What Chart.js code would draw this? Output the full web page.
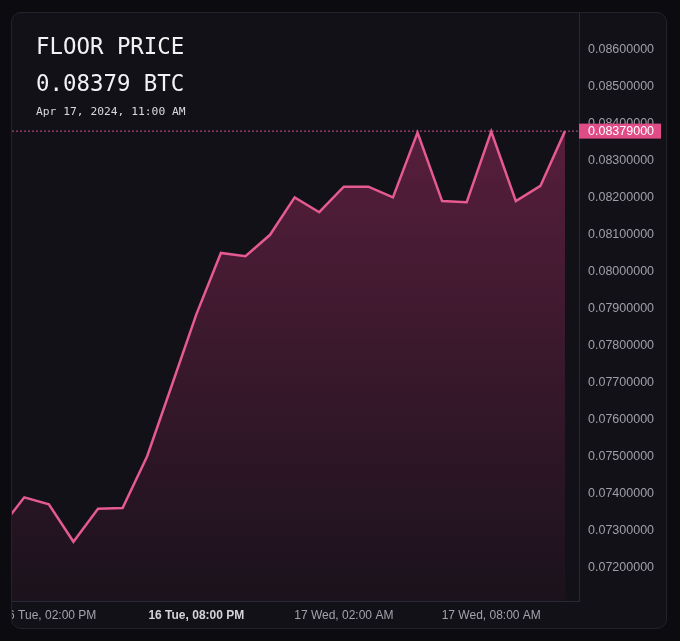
<!DOCTYPE html>
<html>
<head>
<meta charset="utf-8">
<script src="https://cdn.jsdelivr.net/npm/chart.js@4.4.1/dist/chart.umd.min.js"></script>
<style>
  html, body { margin: 0; padding: 0; background: #0c0b0f; }
  body { width: 680px; height: 641px; position: relative; overflow: hidden; }
  #card {
    position: absolute; left: 11px; top: 12px; width: 654px; height: 615px;
    background: #131118; border: 1px solid #24222b; border-radius: 10px; overflow: hidden;
  }
  #chart-wrap { position: absolute; left: 0; top: 0; width: 654px; height: 615px; }
  .head { position: absolute; left: 24px; font-family: "DejaVu Sans Mono", monospace; color: #f2f2f4; white-space: nowrap; }
  #title { top: 22px; font-size: 22.4px; line-height: 22.4px; }
  #price { top: 59px; font-size: 22.4px; line-height: 22.4px; }
  #stamp { top: 92.5px; font-size: 11.3px; line-height: 11.3px; color: #d9d8de; }
</style>
</head>
<body>
<div id="card">
  <div id="chart-wrap"><canvas id="floor-chart"></canvas></div>
  <div class="head" id="title">FLOOR PRICE</div>
  <div class="head" id="price">0.08379 BTC</div>
  <div class="head" id="stamp">Apr 17, 2024, 11:00 AM</div>
</div>
<script>
// hours relative to Apr 17, 2024 00:00
const hours = [-12, -11, -10, -9, -8, -7, -6, -5, -4, -3, -2, -1, 0, 1, 2, 3, 4, 5, 6, 7, 8, 9, 10, 11];
const floorPrices = [
  0.07304, 0.07390, 0.07371, 0.07270, 0.07359, 0.07361, 0.07501, 0.07692,
  0.07884, 0.08050, 0.08041, 0.08099, 0.08200, 0.08160, 0.08229, 0.08229,
  0.08200, 0.08375, 0.08190, 0.08187, 0.08378, 0.08190, 0.08231, 0.08379
];
const xTickHours = [-10, -4, 2, 8];
const xTickLabels = ['16 Tue, 02:00 PM', '16 Tue, 08:00 PM', '17 Wed, 02:00 AM', '17 Wed, 08:00 AM'];
const yTicks = [0.072, 0.073, 0.074, 0.075, 0.076, 0.077, 0.078, 0.079, 0.080, 0.081, 0.082, 0.083, 0.084, 0.085, 0.086];
const currentPrice = 0.08379;

const pink = '#e45a91';
const tickFont = '"Liberation Sans", Arial, sans-serif';

// dotted line at current price + price badge on the axis
const priceMarker = {
  id: 'priceMarker',
  beforeDatasetsDraw(chart) {
    const { ctx, chartArea } = chart;
    const y = chart.scales.y.getPixelForValue(currentPrice);
    ctx.save();
    ctx.strokeStyle = 'rgba(228, 90, 145, 0.85)';
    ctx.lineWidth = 1;
    ctx.setLineDash([2, 2]);
    ctx.beginPath();
    ctx.moveTo(chartArea.left, y);
    ctx.lineTo(chartArea.right, y);
    ctx.stroke();
    ctx.restore();
  },
  afterDraw(chart) {
    const { ctx, chartArea } = chart;
    const y = chart.scales.y.getPixelForValue(currentPrice);
    ctx.save();
    ctx.fillStyle = '#e04d86';
    ctx.fillRect(chartArea.right, y - 7.5, 82, 15);
    ctx.fillStyle = '#ffffff';
    ctx.font = '12.5px ' + tickFont;
    ctx.textBaseline = 'middle';
    ctx.textAlign = 'left';
    ctx.fillText(currentPrice.toFixed(8), chartArea.right + 9, y + 0.5);
    ctx.restore();
  }
};

const ctx = document.getElementById('floor-chart').getContext('2d');
new Chart(ctx, {
  type: 'line',
  data: {
    datasets: [{
      label: 'Floor price',
      data: hours.map((h, i) => ({ x: h, y: floorPrices[i] })),
      borderColor: pink,
      borderWidth: 2.5,
      pointRadius: 0,
      tension: 0,
      fill: 'start',
      backgroundColor: function(context) {
        const area = context.chart.chartArea;
        if (!area) return 'rgba(210, 55, 125, 0.25)';
        const g = context.chart.ctx.createLinearGradient(0, area.top, 0, area.bottom);
        g.addColorStop(0, 'rgba(210, 55, 125, 0.44)');
        g.addColorStop(1, 'rgba(210, 55, 125, 0.04)');
        return g;
      }
    }]
  },
  options: {
    responsive: true,
    maintainAspectRatio: false,
    animation: false,
    layout: { padding: 0 },
    plugins: { legend: { display: false }, tooltip: { enabled: false } },
    scales: {
      x: {
        type: 'linear',
        min: -11.5,
        max: 11.57,
        grid: { display: false, drawTicks: false },
        border: { display: true, color: '#2a2832', width: 1 },
        afterBuildTicks: function(scale) {
          scale.ticks = xTickHours.map(v => ({ value: v }));
        },
        afterFit: function(scale) {
          scale.paddingLeft = 0;
          scale.paddingRight = 0;
          scale.height = 27;
        },
        ticks: {
          autoSkip: false,
          maxRotation: 0,
          padding: 7,
          color: function(c) { return c.tick && c.tick.value === -4 ? '#d4d3d9' : '#a3a2aa'; },
          font: function(c) {
            return {
              family: tickFont,
              size: 12,
              weight: c.tick && c.tick.value === -4 ? 'bold' : 'normal'
            };
          },
          callback: function(value) {
            const i = xTickHours.indexOf(value);
            return i >= 0 ? xTickLabels[i] : '';
          }
        }
      },
      y: {
        position: 'right',
        min: 0.0711,
        max: 0.08698,
        grid: { display: false, drawTicks: false },
        border: { display: true, color: '#2a2832', width: 1 },
        afterBuildTicks: function(scale) {
          scale.ticks = yTicks.map(v => ({ value: v }));
        },
        afterFit: function(scale) {
          scale.paddingTop = 0;
          scale.paddingBottom = 0;
          scale.width = 87;
        },
        ticks: {
          padding: 9,
          color: '#a09fa7',
          font: { family: tickFont, size: 12.5 },
          callback: function(value) { return Number(value).toFixed(8); }
        }
      }
    }
  },
  plugins: [priceMarker]
});
</script>
</body>
</html>
